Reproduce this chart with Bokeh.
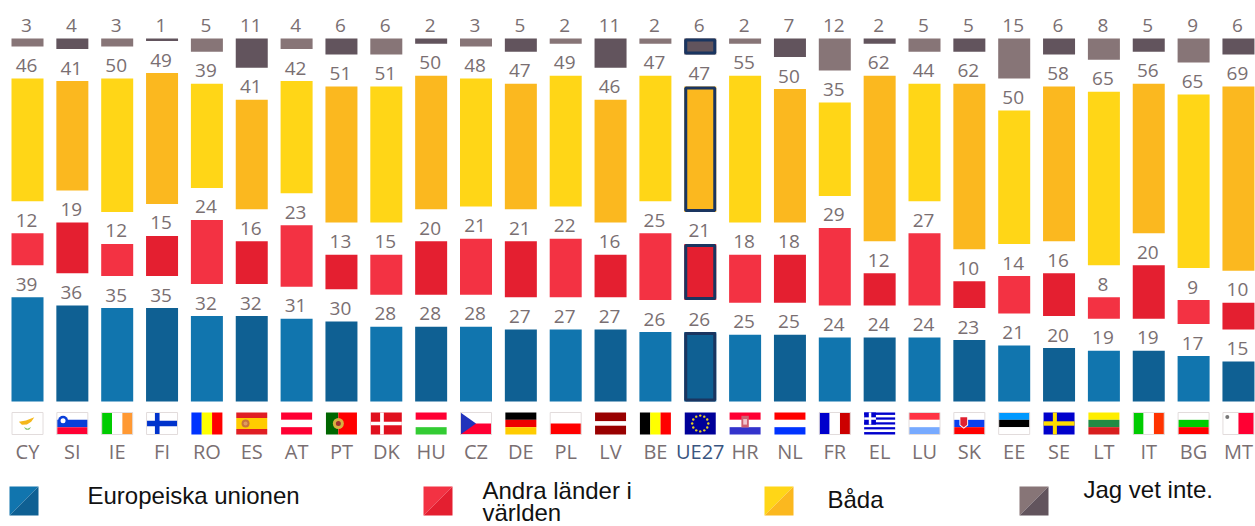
import math
from bokeh.plotting import figure
from bokeh.models import Range1d, LinearAxis, FixedTicker
from bokeh.core.properties import value
from bokeh.embed import file_html
from bokeh.resources import INLINE

countries = ["CY","SI","IE","FI","RO","ES","AT","PT","DK","HU","CZ","DE","PL","LV","BE","UE27",
             "HR","NL","FR","EL","LU","SK","EE","SE","LT","IT","BG","MT"]
eu_values    = [39,36,35,35,32,32,31,30,28,28,28,27,27,27,26,26,25,25,24,24,24,23,21,20,19,19,17,15]
other_values = [12,19,12,15,24,16,23,13,15,20,21,21,22,16,25,21,18,18,29,12,27,10,14,16,8,20,9,10]
both_values  = [46,41,50,49,39,41,42,51,51,50,48,47,49,46,47,47,55,50,35,62,44,62,50,58,65,56,65,69]
dk_values    = [3,4,3,1,5,11,4,6,6,2,3,5,2,11,2,6,2,7,12,2,5,5,15,6,8,5,9,6]
legend_labels = [["Europeiska unionen"], ["Andra länder i", "världen"], ["Båda"], ["Jag vet inte."]]

LIGHT = ["#1175AE", "#F33243", "#FFD617", "#877577"]
DARK  = ["#0F6093", "#E41F30", "#FBB81F", "#62545D"]
NAVY = "#1A3560"
TEXT = "#7A6F72"
GAP = 12           # empty units between stacked segments
PX_X, X0 = 44.85, 27.0
PX_Y, Y0 = 2.67, 401.0
BAR_W = 32 / PX_X

W, H = 1255, 526
p = figure(width=W, height=H, output_backend="svg", toolbar_location=None,
           x_range=Range1d(-X0 / PX_X, (W - X0) / PX_X),
           y_range=Range1d((Y0 - H) / PX_Y, Y0 / PX_Y),
           min_border=0, outline_line_color=None, x_axis_location=None, y_axis_location=None)
p.grid.visible = False

idx = list(range(len(countries)))
series = [eu_values, other_values, both_values, dk_values]
base = [0.0] * len(countries)
ue = countries.index("UE27")
for s, vals in enumerate(series):
    tops = [b + v for b, v in zip(base, vals)]
    colors = [(LIGHT[s] if i % 2 == 0 else DARK[s]) for i in idx]
    p.vbar(x=idx, bottom=base, top=tops, width=BAR_W, fill_color=colors, line_color=None)
    p.text(x=idx, y=tops, text=[str(v) for v in vals], text_align="center",
           text_baseline="alphabetic", x_offset=-1, y_offset=-13, text_color=TEXT, text_font_size="19px",
           text_font=value("Open Sans"))
    # UE27 highlight: outline kept inside the bar
    ix, iy = 1.5 / PX_X, 1.5 / PX_Y
    p.quad(left=[ue - BAR_W / 2 + ix], right=[ue + BAR_W / 2 - ix],
           bottom=[base[ue] + iy], top=[tops[ue] - iy],
           fill_color=None, line_color=NAVY, line_width=3)
    base = [t + GAP for t in tops]

# country codes on real axes sitting inside the frame
AX_Y = (Y0 - 428) / PX_Y
for ticks, col in (([i for i in idx if i != ue], TEXT), ([ue], "#3A5580")):
    ax = LinearAxis(ticker=FixedTicker(ticks=ticks), fixed_location=AX_Y,
                    major_label_overrides={i: countries[i] for i in ticks},
                    axis_line_color=None, major_tick_line_color=None, minor_tick_line_color=None,
                    major_label_standoff=3, major_label_text_color=col,
                    major_label_text_font="Open Sans", major_label_text_font_size="20px")
    p.add_layout(ax, "below")

# ---- flags, drawn in flag-local coordinates (u: 0..1 left-right, v: 0..1 top-bottom)
F_W = 31 / PX_X
F_TOP = (Y0 - 412) / PX_Y
F_BOT = (Y0 - 434) / PX_Y
def fx(i, u): return i - F_W / 2 + u * F_W
def fy(v): return F_TOP + (F_BOT - F_TOP) * v
def box(i, u0, v0, u1, v1, c):
    p.quad(left=[fx(i, u0)], right=[fx(i, u1)], top=[fy(v0)], bottom=[fy(v1)],
           fill_color=c, line_color=None)
def poly(i, pts, c):
    p.patch(x=[fx(i, a) for a, _ in pts], y=[fy(b) for _, b in pts], fill_color=c, line_color=None)
def hst(i, cs, stops=None):
    n = len(cs); stops = stops or [k / n for k in range(n + 1)]
    for k, c in enumerate(cs): box(i, 0, stops[k], 1, stops[k + 1], c)
def vst(i, cs, stops=None):
    n = len(cs); stops = stops or [k / n for k in range(n + 1)]
    for k, c in enumerate(cs): box(i, stops[k], 0, stops[k + 1], 1, c)
def rim(i):
    p.quad(left=[fx(i, 0)], right=[fx(i, 1)], top=[fy(0)], bottom=[fy(1)],
           fill_color=None, line_color="#E2DCDC", line_width=1)
def dot(i, u, v, c, s=3):
    p.scatter(x=[fx(i, u)], y=[fy(v)], size=s, marker="circle", fill_color=c, line_color=None)
def cross(i, bg, fg, u0=.27, u1=.42, v0=.38, v1=.62):
    box(i, 0, 0, 1, 1, bg); box(i, u0, 0, u1, 1, fg); box(i, 0, v0, 1, v1, fg)

n = countries.index
box(n("CY"), 0, 0, 1, 1, "#FFFFFF")
poly(n("CY"), [(.22,.42),(.45,.36),(.72,.22),(.62,.42),(.48,.55),(.32,.56)], "#F5B81C")
poly(n("CY"), [(.38,.66),(.5,.74),(.62,.66),(.55,.78),(.45,.78)], "#7CC36A")
rim(n("CY"))
hst(n("SI"), ["#FFFFFF", "#0A3FD8", "#FF0033"])
dot(n("SI"), .2, .38, "#0A3FD8", 10); dot(n("SI"), .2, .38, "#FFFFFF", 5); rim(n("SI"))
vst(n("IE"), ["#00CC00", "#FFFFFF", "#FF9933"]); rim(n("IE"))
cross(n("FI"), "#FFFFFF", "#0033CC"); rim(n("FI"))
vst(n("RO"), ["#0033FF", "#FFFF00", "#FF0000"])
hst(n("ES"), ["#E01E24", "#FFCC00", "#E01E24"], [0, .25, .75, 1])
dot(n("ES"), .3, .5, "#C8743C", 8); dot(n("ES"), .3, .5, "#E09A60", 4)
hst(n("AT"), ["#FF0033", "#FFFFFF", "#FF0033"])
vst(n("PT"), ["#006600", "#FF0000"], [0, .4, 1])
dot(n("PT"), .4, .5, "#D8B040", 11); dot(n("PT"), .4, .5, "#A03030", 5)
cross(n("DK"), "#E0101E", "#FFFFFF", .3, .42, .42, .58)
hst(n("HU"), ["#FF0033", "#FFFFFF", "#33CC33"])
hst(n("CZ"), ["#FFFFFF", "#FF0033"]); poly(n("CZ"), [(0,0),(.5,.5),(0,1)], "#2233BB"); rim(n("CZ"))
hst(n("DE"), ["#000000", "#EE0000", "#FFCC00"])
hst(n("PL"), ["#FFFFFF", "#FF0000"]); rim(n("PL"))
hst(n("LV"), ["#990000", "#FFFFFF", "#990000"], [0, .4, .6, 1])
vst(n("BE"), ["#000000", "#FFFF00", "#FF0000"])
box(ue, 0, 0, 1, 1, "#000099")
for k in range(12):
    a = k * math.pi / 6
    dot(ue, .5 + .26 * math.cos(a), .5 + .36 * math.sin(a), "#E8D020", 2.4)
hst(n("HR"), ["#FF0033", "#FFFFFF", "#3333CC"])
box(n("HR"), .38, .15, .62, .68, "#D06070"); box(n("HR"), .44, .3, .56, .55, "#F0C8D0")
hst(n("NL"), ["#FF0000", "#FFFFFF", "#0033FF"])
vst(n("FR"), ["#0000CC", "#FFFFFF", "#CC0000"]); rim(n("FR"))
hst(n("EL"), ["#0000CC", "#FFFFFF"] * 4 + ["#0000CC"])
box(n("EL"), 0, 0, .38, .55, "#0000CC"); box(n("EL"), .15, 0, .23, .55, "#FFFFFF"); box(n("EL"), 0, .22, .38, .33, "#FFFFFF")
hst(n("LU"), ["#FF3344", "#FFFFFF", "#77AAFF"]); rim(n("LU"))
hst(n("SK"), ["#FFFFFF", "#0A3FF0", "#FF0000"])
poly(n("SK"), [(.18,.18),(.46,.18),(.46,.58),(.32,.74),(.18,.58)], "#FFFFFF")
poly(n("SK"), [(.21,.22),(.43,.22),(.43,.56),(.32,.68),(.21,.56)], "#E02030"); rim(n("SK"))
hst(n("EE"), ["#0099FF", "#000000", "#FFFFFF"]); rim(n("EE"))
cross(n("SE"), "#0000CC", "#FFDD00", .3, .43, .4, .6)
hst(n("LT"), ["#FFEE00", "#228B44", "#D81E1E"])
vst(n("IT"), ["#00CC00", "#FFFFFF", "#FF3300"]); rim(n("IT"))
hst(n("BG"), ["#FFFFFF", "#00CC00", "#FF0000"]); rim(n("BG"))
vst(n("MT"), ["#FFFFFF", "#FF0033"]); dot(n("MT"), .14, .2, "#777777", 4); rim(n("MT"))

# ---- legend
def px(x): return (x - X0) / PX_X
def py(y): return (Y0 - y) / PX_Y
SW = 29
swatch_left = [9, 423, 764, 1019]
text_left = [87, 482, 827, 1083]
text_base = [[495], [490, 512], [499], [489]]
for s in range(4):
    l, t = swatch_left[s], 486
    p.patch(x=[px(l), px(l + SW), px(l)], y=[py(t), py(t), py(t + SW)], fill_color=LIGHT[s], line_color=None)
    p.patch(x=[px(l + SW), px(l + SW), px(l)], y=[py(t), py(t + SW), py(t + SW)], fill_color=DARK[s], line_color=None)
    for line, b in zip(legend_labels[s], text_base[s]):
        p.text(x=[px(text_left[s])], y=[py(b)], text=[line], text_align="left", text_baseline="alphabetic",
               text_color="#111111", text_font_size="24px", text_font=value("Liberation Sans"))

open("out.html", "w").write(file_html(p, INLINE))
